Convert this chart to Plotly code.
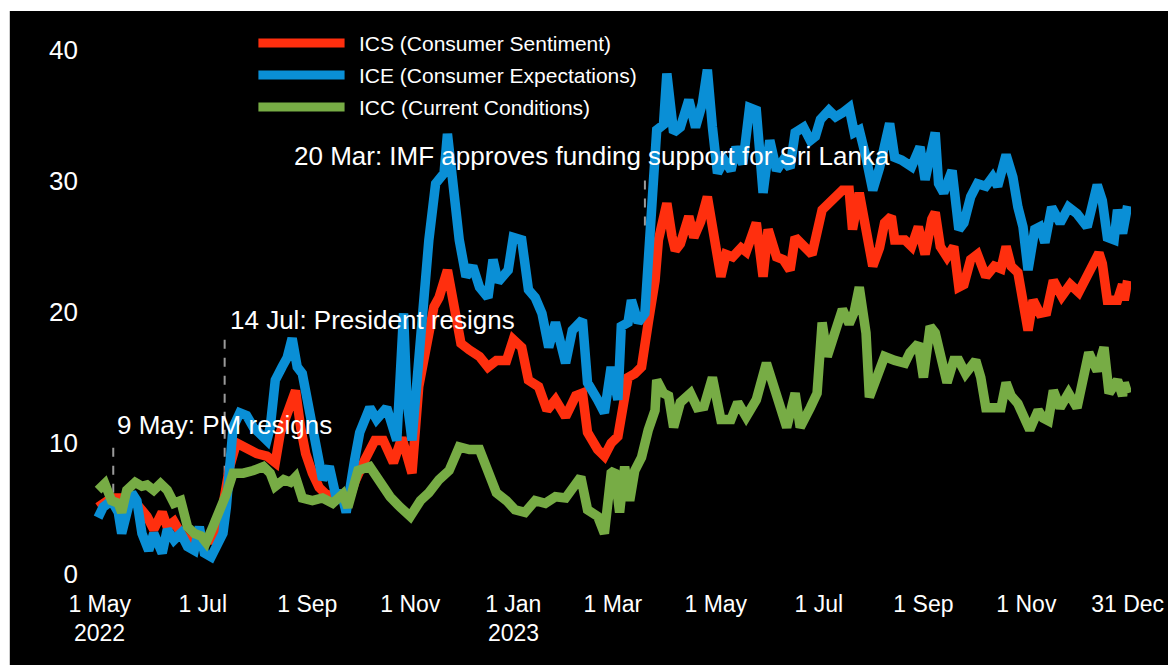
import pandas as pd
import plotly.graph_objects as go

START = "2022-05-01"

# ---- data (day offsets from START, index values) ----
ics_day = [-1, 7, 19, 28, 32, 37, 40, 44, 48, 52, 59, 66, 72, 77, 81, 87, 93, 99, 104, 107, 113, 116, 119, 122, 126, 130, 134, 141, 148, 151, 157, 163, 168, 174, 179, 185, 189, 194, 198, 201, 206, 210, 214, 219, 225, 230, 235, 241, 245, 250, 254, 260, 265, 270, 276, 282, 286, 289, 295, 299, 303, 307, 309, 313, 317, 321, 325, 329, 331, 336, 339, 341, 344, 349, 352, 356, 360, 364, 368, 371, 375, 380, 383, 389, 393, 396, 401, 405, 409, 412, 418, 422, 428, 434, 440, 444, 446, 450, 454, 458, 462, 465, 469, 471, 477, 481, 485, 489, 493, 495, 498, 502, 506, 509, 512, 516, 520, 525, 530, 534, 537, 540, 544, 547, 550, 553, 557, 561, 565, 570, 575, 580, 585, 588, 592, 594, 597, 603, 606, 607, 609]
ics_val = [5.1, 5.8, 5.8, 4.4, 3.4, 4.7, 3.6, 4.0, 3.1, 2.6, 2.6, 2.6, 4.5, 8.2, 10.0, 9.5, 9.2, 9.0, 8.5, 10.8, 13.3, 14.0, 11.2, 9.2, 7.7, 6.6, 6.1, 5.8, 5.8, 7.0, 8.7, 10.2, 10.2, 8.5, 10.4, 7.7, 14.3, 17.6, 20.4, 21.1, 23.2, 20.4, 17.6, 17.1, 16.6, 15.8, 16.3, 16.3, 17.9, 17.3, 14.8, 14.3, 12.5, 13.3, 12.0, 13.6, 13.8, 10.8, 9.5, 9.0, 10.0, 10.5, 12.0, 15.0, 15.3, 15.8, 19.2, 22.4, 25.5, 28.3, 25.8, 24.7, 25.2, 27.3, 25.7, 26.9, 28.8, 25.2, 22.7, 24.4, 24.2, 24.9, 24.6, 26.8, 22.7, 26.3, 24.2, 24.0, 23.2, 25.7, 25.0, 24.4, 27.8, 28.5, 29.3, 29.3, 26.3, 29.1, 26.5, 23.5, 24.9, 26.8, 27.3, 25.5, 25.5, 25.0, 26.5, 24.4, 27.1, 27.6, 25.0, 24.2, 25.0, 21.9, 22.1, 24.0, 24.4, 22.7, 23.5, 23.3, 25.0, 23.5, 23.0, 20.9, 18.6, 20.9, 19.9, 20.0, 22.4, 21.2, 22.1, 21.5, 22.7, 23.5, 24.5, 23.7, 20.9, 20.9, 22.1, 20.9, 22.4]

ice_day = [-1, 2, 7, 11, 13, 19, 22, 25, 29, 32, 37, 40, 44, 48, 52, 56, 59, 62, 66, 69, 73, 75, 77, 79, 83, 87, 91, 95, 99, 101, 104, 108, 111, 114, 117, 120, 124, 128, 132, 136, 140, 143, 146, 151, 154, 160, 164, 170, 174, 176, 180, 182, 185, 188, 192, 195, 199, 204, 206, 209, 213, 217, 221, 225, 230, 233, 236, 242, 245, 250, 254, 258, 262, 266, 270, 276, 280, 286, 289, 295, 299, 303, 307, 309, 313, 315, 319, 323, 325, 327, 330, 334, 336, 340, 344, 349, 353, 357, 360, 363, 366, 370, 374, 377, 381, 385, 389, 393, 397, 401, 405, 409, 412, 417, 421, 424, 427, 432, 436, 440, 444, 447, 450, 454, 458, 462, 465, 468, 471, 475, 481, 486, 489, 492, 495, 497, 500, 505, 509, 512, 516, 520, 525, 529, 532, 537, 541, 544, 547, 550, 554, 557, 560, 564, 569, 574, 579, 585, 588, 591, 594, 597, 601, 603, 606, 608, 609]
ice_val = [4.3, 5.1, 5.6, 4.7, 3.1, 6.2, 5.6, 3.1, 1.8, 3.1, 1.6, 3.4, 2.6, 3.1, 2.1, 1.8, 3.6, 1.6, 1.3, 2.1, 3.1, 5.1, 8.2, 11.2, 12.3, 12.1, 11.2, 10.8, 10.2, 11.2, 14.8, 15.8, 16.5, 18.0, 15.8, 15.3, 12.5, 10.2, 7.2, 8.2, 5.9, 6.3, 4.7, 8.7, 10.8, 12.7, 11.8, 12.7, 10.8, 10.2, 19.9, 13.3, 10.2, 15.3, 21.9, 25.5, 29.8, 30.6, 33.6, 30.3, 25.5, 22.7, 23.5, 21.9, 21.1, 24.0, 22.3, 23.2, 25.7, 25.5, 21.7, 21.1, 19.9, 17.3, 19.2, 16.1, 18.6, 19.4, 14.6, 13.3, 12.3, 15.8, 13.3, 18.9, 19.2, 20.9, 19.2, 19.9, 24.7, 28.5, 33.9, 34.3, 38.2, 33.7, 34.1, 36.2, 34.1, 35.9, 38.5, 34.1, 30.6, 31.6, 30.8, 32.6, 31.3, 35.6, 35.4, 29.1, 33.1, 30.8, 31.6, 31.0, 33.7, 34.1, 33.1, 33.4, 34.7, 35.4, 34.9, 35.2, 35.6, 33.7, 33.9, 31.8, 29.3, 31.0, 32.6, 34.4, 31.8, 31.6, 31.1, 32.6, 30.1, 32.1, 33.7, 29.8, 29.1, 30.8, 26.3, 26.8, 28.8, 29.8, 29.6, 30.3, 29.6, 32.0, 30.3, 28.0, 26.5, 23.2, 26.3, 26.5, 25.3, 28.0, 26.8, 28.0, 27.5, 26.5, 27.8, 29.7, 28.5, 25.7, 25.5, 27.8, 26.0, 28.0, 28.1]

icc_day = [-1, 3, 7, 11, 13, 16, 21, 25, 28, 32, 36, 40, 44, 48, 52, 56, 60, 63, 67, 72, 75, 79, 85, 91, 97, 101, 104, 109, 113, 116, 120, 126, 132, 138, 144, 147, 153, 160, 166, 172, 178, 184, 190, 195, 201, 207, 213, 219, 225, 229, 235, 241, 246, 252, 258, 264, 270, 276, 282, 285, 289, 295, 299, 303, 305, 308, 311, 314, 317, 321, 325, 329, 330, 334, 337, 340, 344, 350, 354, 358, 363, 368, 374, 378, 383, 389, 395, 399, 403, 407, 412, 415, 421, 425, 428, 431, 434, 440, 444, 447, 450, 454, 456, 462, 465, 471, 477, 480, 485, 488, 492, 495, 498, 502, 506, 509, 513, 519, 522, 525, 530, 534, 537, 540, 544, 547, 551, 556, 559, 562, 565, 569, 574, 579, 583, 586, 588, 591, 595, 598, 603, 606, 607, 609]
icc_val = [6.4, 6.9, 5.6, 5.4, 4.7, 6.4, 7.0, 6.7, 6.8, 6.4, 6.9, 6.4, 5.4, 5.6, 3.6, 3.1, 2.9, 2.4, 3.6, 5.1, 6.1, 7.7, 7.7, 7.9, 8.2, 7.7, 6.7, 7.2, 7.0, 7.4, 5.8, 5.6, 5.8, 5.4, 6.1, 5.1, 7.9, 8.2, 6.9, 5.9, 5.1, 4.4, 5.6, 6.2, 7.2, 7.9, 9.7, 9.5, 9.5, 8.2, 6.2, 5.6, 4.9, 4.7, 5.6, 5.4, 5.9, 5.8, 6.9, 7.4, 4.9, 4.4, 3.1, 7.7, 7.9, 4.7, 8.2, 5.6, 7.9, 8.9, 11.0, 12.5, 14.8, 13.8, 13.6, 11.2, 13.1, 13.8, 12.7, 12.8, 15.0, 11.8, 11.8, 13.1, 12.0, 13.3, 16.1, 14.6, 12.7, 11.2, 13.8, 11.2, 12.7, 13.8, 19.2, 16.6, 17.8, 20.2, 19.1, 20.0, 21.9, 18.4, 13.5, 15.6, 16.6, 16.3, 16.1, 16.9, 17.6, 15.0, 18.9, 18.4, 16.9, 14.6, 16.3, 16.3, 15.3, 16.3, 15.0, 12.7, 12.7, 12.7, 14.6, 13.6, 13.0, 12.0, 11.0, 12.5, 11.9, 11.7, 14.0, 12.7, 13.8, 12.7, 15.0, 16.9, 16.3, 15.5, 17.3, 13.8, 14.8, 13.6, 14.6, 13.8]

series_names = ["ICS (Consumer Sentiment)", "ICE (Consumer Expectations)", "ICC (Current Conditions)"]
series_colors = ["#FF2F0E", "#0A8FD6", "#77AC45"]

tick_dates = ["2022-05-01", "2022-07-01", "2022-09-01", "2022-11-01", "2023-01-01", "2023-03-01",
              "2023-05-01", "2023-07-01", "2023-09-01", "2023-11-01", "2023-12-31"]
tick_text = ["1 May", "1 Jul", "1 Sep", "1 Nov", "1 Jan", "1 Mar", "1 May", "1 Jul", "1 Sep", "1 Nov", "31 Dec"]
year_dates = ["2022-05-01", "2023-01-01"]
year_text = ["2022", "2023"]

events = [
    # (event date, label, label start date, label value, dash top, dash bottom)
    ("2022-05-09", "9 May: PM resigns", "2022-05-10", 11.4, 10.0, 6.2),
    ("2022-07-14", "14 Jul: President resigns", "2022-07-16", 19.4, 18.0, 6.2),
    ("2023-03-20", "20 Mar: IMF approves funding support for Sri Lanka", "2022-08-23", 31.9, 30.6, 26.6),
]

# ---- layout constants (target page pixels; page body has an 8px offset) ----
OX, OY = 8, 8
W, H = 1176 - OX, 665 - OY
L, R, T, B = 93 - OX, 35, 50 - OY, 91
PW, PH = W - L - R, H - T - B
FONT = "Liberation Sans, Arial, sans-serif"


def px_x(px):
    return (px - OX - L) / PW


def px_y(py):
    return (H - B - (py - OY)) / PH


def to_dates(days):
    return pd.Timestamp(START) + pd.to_timedelta(days, unit="D")


fig = go.Figure()
for name, color, d, v in zip(series_names, series_colors,
                             [ics_day, ice_day, icc_day], [ics_val, ice_val, icc_val]):
    fig.add_trace(go.Scatter(x=to_dates(d), y=v, mode="lines", name=name,
                             line=dict(color=color, width=9.5),
                             showlegend=False))

shapes = [dict(type="rect", xref="paper", yref="paper",
               x0=px_x(9), x1=px_x(1176 + 5), y0=px_y(665 + 5), y1=px_y(11),
               fillcolor="black", line=dict(width=0), layer="below")]
for ev_date, _, _, _, top, bot in events:
    shapes.append(dict(type="line", xref="x", yref="y", x0=ev_date, x1=ev_date, y0=bot, y1=top,
                       line=dict(color="#9A9A9A", width=2, dash="dash"), layer="below"))

annotations = []
for ev_date, label, lx, ly, _, _ in events:
    annotations.append(dict(x=lx, y=ly, xref="x", yref="y", text=label, showarrow=False,
                            xanchor="left", yanchor="middle",
                            font=dict(family=FONT, size=26, color="white")))

# custom legend
leg_y = [43, 75, 107]
for name, color, ly in zip(series_names, series_colors, leg_y):
    shapes.append(dict(type="line", xref="paper", yref="paper",
                       x0=px_x(260), x1=px_x(347), y0=px_y(ly), y1=px_y(ly),
                       line=dict(color=color, width=9)))
    annotations.append(dict(x=px_x(360), y=px_y(ly), xref="paper", yref="paper", text=name,
                            showarrow=False, xanchor="left", yanchor="middle",
                            font=dict(family=FONT, size=21, color="white")))

for yd, yt in zip(year_dates, year_text):
    annotations.append(dict(x=yd, y=px_y(633), xref="x", yref="paper", text=yt, showarrow=False,
                            xanchor="center", yanchor="middle", borderpad=0,
                            font=dict(family=FONT, size=23, color="white")))

fig.update_layout(
    width=W, height=H,
    margin=dict(l=L, r=R, t=T, b=B, pad=0),
    paper_bgcolor="white", plot_bgcolor="black",
    font=dict(family=FONT, color="white"),
    shapes=shapes, annotations=annotations,
    xaxis=dict(range=["2022-04-27", "2024-01-02"], tickvals=tick_dates, ticktext=tick_text,
               showgrid=False, zeroline=False, showline=False, ticks="",
               tickfont=dict(family=FONT, size=23, color="white"), ticklabelstandoff=14),
    yaxis=dict(range=[0, 40], tickvals=[0, 10, 20, 30, 40],
               showgrid=False, zeroline=False, showline=False, ticks="",
               tickfont=dict(family=FONT, size=26, color="white"), ticklabelstandoff=14),
)

fig.write_html("out.html")
